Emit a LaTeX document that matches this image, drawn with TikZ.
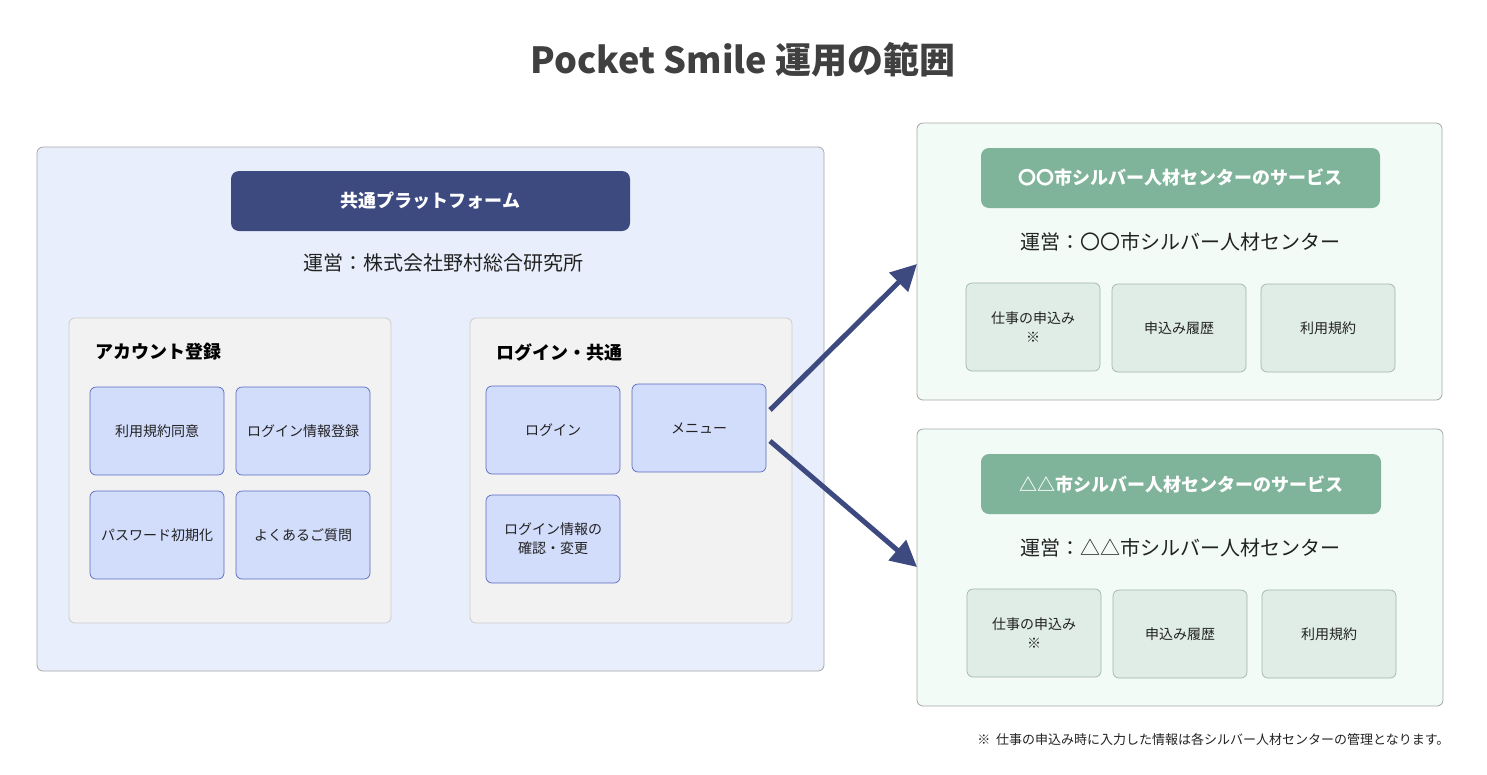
\documentclass[tikz,border=0pt]{standalone}
\usepackage{fontspec}
\setmainfont{Noto Sans CJK JP}
\usetikzlibrary{arrows.meta}
\definecolor{navy}{HTML}{3D4A80}
\definecolor{bluebg}{HTML}{E8EEFB}
\definecolor{bluebox}{HTML}{D2DCFB}
\definecolor{blueline}{HTML}{5A6ABF}
\definecolor{greenhd}{HTML}{7FB39A}
\definecolor{greenbg}{HTML}{F3FBF7}
\definecolor{greenbox}{HTML}{E0EDE6}
\definecolor{greenline}{HTML}{A0B4AA}
\definecolor{txt}{HTML}{222222}
\tikzset{
 panel/.style={draw=#1, rounded corners=6pt, line width=0.8pt},
 small/.style={draw=blueline, fill=bluebox, rounded corners=6pt, line width=0.7pt, align=center, font=\fontsize{14}{19}\selectfont, text=txt},
 gsmall/.style={draw=greenline, fill=greenbox, rounded corners=6pt, line width=0.7pt, align=center, font=\fontsize{14}{19}\selectfont, text=txt},
 hdr/.style={fill=#1, rounded corners=8pt, text=white, font=\bfseries\fontsize{18}{22}\selectfont},
 arr/.style={draw=navy, line width=5pt, -{Triangle[length=26pt,width=26pt]}},
}
\newcommand{\bx}[4]{\path[#1] (#2) rectangle (#3) node[midway,align=center]{#4};}
\begin{document}
\begin{tikzpicture}[x=1pt,y=-1pt]
\useasboundingbox (0,0) rectangle (1487,774);
\node[font=\bfseries\fontsize{36}{40}\selectfont, text=black!75] (title) at (743,60) {Pocket Smile 運用の範囲};
% left
\path[panel=black!35, fill=bluebg] (37,147) rectangle (824,671);
\path[hdr=navy] (231,171) rectangle (630,231) node[midway] (hd0) {共通プラットフォーム};
\node[font=\fontsize{20}{24}\selectfont, text=txt] (op0) at (443,263) {運営：株式会社野村総合研究所};
\path[panel=black!20, fill=black!5] (69,318) rectangle (391,623);
\node[anchor=west, font=\bfseries\fontsize{18}{22}\selectfont] (t1) at (92,352) {アカウント登録};
\path[small] (90,387) rectangle (224,475) node[midway] (a1) {利用規約同意};
\path[small] (236,387) rectangle (370,475) node[midway] (a2) {ログイン情報登録};
\path[small] (90,491) rectangle (224,579) node[midway] (a3) {パスワード初期化};
\path[small] (236,491) rectangle (370,579) node[midway] (a4) {よくあるご質問};
\path[panel=black!20, fill=black!5] (470,318) rectangle (792,623);
\node[anchor=west, font=\bfseries\fontsize{18}{22}\selectfont] (t2) at (493,352) {ログイン・共通};
\path[small] (486,386) rectangle (620,474) node[midway] (l1) {ログイン};
\path[small] (632,384) rectangle (766,472) node[midway] (menu) {メニュー};
\path[small] (486,495) rectangle (620,583) node[midway] (l3) {ログイン情報の\\確認・変更};
% right 1
\path[panel=black!35, fill=greenbg] (917,123) rectangle (1442,400);
\coordinate (r1w) at (917,264);
\path[hdr=greenhd] (981,148) rectangle (1380,208) node[midway] (hd1) {〇〇市シルバー人材センターのサービス};
\node[font=\fontsize{20}{24}\selectfont, text=txt] (op1) at (1180,242) {運営：〇〇市シルバー人材センター};
\path[gsmall] (966,283) rectangle (1100,371) node[midway] (g1) {仕事の申込み\\※};
\path[gsmall] (1112,284) rectangle (1246,372) node[midway] (g2) {申込み履歴};
\path[gsmall] (1261,284) rectangle (1395,372) node[midway] (g3) {利用規約};
% right 2
\path[panel=black!35, fill=greenbg] (917,429) rectangle (1443,706);
\coordinate (r2w) at (917,567);
\path[hdr=greenhd] (981,454) rectangle (1381,514) node[midway] (hd2) {△△市シルバー人材センターのサービス};
\node[font=\fontsize{20}{24}\selectfont, text=txt] (op2) at (1180,548) {運営：△△市シルバー人材センター};
\path[gsmall] (967,589) rectangle (1101,677) node[midway] (h1) {仕事の申込み\\※};
\path[gsmall] (1113,590) rectangle (1247,678) node[midway] (h2) {申込み履歴};
\path[gsmall] (1262,590) rectangle (1396,678) node[midway] (h3) {利用規約};
% arrows
\coordinate (s1) at (770,410);
\coordinate (s2) at (770,441);
\draw[arr] (s1) -- (r1w);
\draw[arr] (s2) -- (r2w);
\node[anchor=east, font=\fontsize{13}{16}\selectfont, text=txt] (note) at (1453,740) {※\ \ 仕事の申込み時に入力した情報は各シルバー人材センターの管理となります。};
\end{tikzpicture}
\end{document}
